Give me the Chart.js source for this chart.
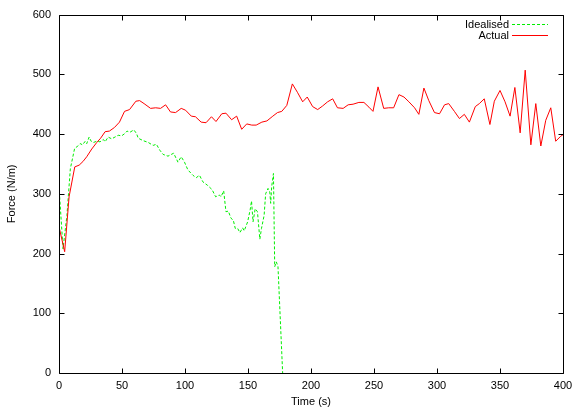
<!DOCTYPE html>
<html>
<head>
<meta charset="utf-8">
<script src="https://cdn.jsdelivr.net/npm/chart.js@4/dist/chart.umd.min.js"></script>
<style>
  html, body { margin: 0; padding: 0; background: #ffffff; }
  #wrap { width: 581px; height: 407px; }
</style>
</head>
<body>
<div id="wrap"><canvas id="c" width="581" height="407"></canvas></div>
<script>
// ---- data ----
const seriesNames = ["Idealised", "Actual"];

const idealTime = [0, 3.2, 6.3, 9, 12.4, 15, 16.8, 18.7, 20.8, 22, 23.9, 25.5, 27.4, 30, 32.6, 35.2, 36.6, 39, 41.8, 44.4,
  47, 49.7, 52.3, 54, 56.3, 59.4, 61.5, 62.9, 66.8, 70.8, 74.7, 77.3, 80, 82.6, 86.5, 91, 94.4, 97, 99.6, 102.3,
  106.3, 108.9, 111.5, 114.2, 118, 121.5, 124.3, 127.3, 128.6, 130.7, 132.5, 134.4, 136.5, 138.3, 139.9, 141.8, 143.6, 145.7, 147, 149.7,
  151.7, 152.8, 154, 155.7, 157.5, 159.4, 160.7, 162.8, 164, 165.9, 167.3, 168, 168.8, 170.2, 171.2, 172.5, 173.8, 177.5];
const idealForce = [312, 208, 264, 342, 376, 380, 384, 382, 388, 384, 395, 388, 386, 388, 387, 391, 387, 395, 392, 395,
  398, 397, 401, 405, 403, 407, 401, 393, 389, 386, 381, 383, 373, 366, 363, 368, 353, 362, 353, 340,
  331, 327, 331, 320, 314, 307, 295, 298, 295, 305, 270, 271, 259, 256, 242, 242, 235, 243, 238, 253,
  273, 288, 253, 275, 270, 224, 242, 264, 300, 309, 303, 284, 312, 334, 178, 186, 178, 0];

const actualTime = [0, 4.5, 8, 12.5, 16, 19, 22, 26, 30, 33, 36.6, 40, 44, 48, 52, 56, 61, 64, 67.5, 72.7,
  76.7, 80.6, 84.6, 88.5, 92.5, 97, 100.4, 105, 108.3, 112.8, 116.7, 121, 124.6, 129.2, 132.5, 137, 141, 145, 149, 153,
  156.5, 161, 165, 169.7, 173.4, 176.8, 180.8, 185.2, 189.2, 193.4, 197, 201.3, 205.3, 209.2, 213.2, 217.2, 221, 225.5, 229.5, 233.4,
  238, 242, 246, 249.2, 253.2, 257.7, 261.7, 265.6, 269.8, 273.8, 277.7, 282.2, 285.6, 289.6, 293.5, 298, 302, 306, 309.3, 313.8,
  317.8, 321.7, 325.7, 330.4, 333.6, 337.5, 342, 345.5, 350, 354, 358, 361.8, 366, 370, 374.5, 378.4, 382.4, 386.3, 390.3, 394.2, 398, 400];
const actualForce = [245, 203, 295, 345, 348, 354, 362, 375, 386, 393, 404, 405, 411, 420, 438, 441, 455, 456, 451, 443,
  444, 443, 449, 437, 436, 443, 440, 430, 429, 420, 419, 429, 421, 434, 435, 424, 430, 408, 417, 415,
  415, 420, 422, 430, 436, 438, 448, 484, 470, 454, 462, 446, 441, 447, 454, 459, 444, 443, 449, 450,
  453, 453, 445, 438, 479, 443, 444, 444, 466, 462, 454, 444, 433, 477, 456, 436, 434, 449, 451, 438,
  426, 433, 420, 446, 451, 459, 416, 455, 473, 454, 430, 478, 402, 507, 382, 451, 380, 423, 444, 388, 396, 399];

const xTicks = [0, 50, 100, 150, 200, 250, 300, 350, 400];
const yTicks = [0, 100, 200, 300, 400, 500, 600];
const xTitle = "Time (s)";
const yTitle = "Force (N/m)";

// ---- build ----
const FONT = '"Liberation Sans", Arial, Helvetica, sans-serif';
const toPts = (xs, ys) => xs.map((x, i) => ({ x: x, y: ys[i] }));
const idealColor = "#00ee00";
const actualColor = "#ff0000";

const framePlugin = {
  id: "frame",
  afterDatasetsDraw(chart) {
    const { ctx, chartArea: a, scales } = chart;
    const L = Math.round(a.left) + 0.5, R = Math.round(a.right) + 0.5;
    const T = Math.round(a.top) + 0.5, B = Math.round(a.bottom) + 0.5;
    const tl = 5;
    ctx.save();
    ctx.strokeStyle = "#000000";
    ctx.lineWidth = 1;
    ctx.setLineDash([]);
    ctx.beginPath();
    ctx.rect(L, T, R - L, B - T);
    xTicks.forEach(v => {
      const p = Math.round(scales.x.getPixelForValue(v)) + 0.5;
      ctx.moveTo(p, B); ctx.lineTo(p, B - tl);
      ctx.moveTo(p, T); ctx.lineTo(p, T + tl);
    });
    yTicks.forEach(v => {
      const p = Math.round(scales.y.getPixelForValue(v)) + 0.5;
      ctx.moveTo(L, p); ctx.lineTo(L + tl, p);
      ctx.moveTo(R, p); ctx.lineTo(R - tl, p);
    });
    ctx.stroke();

    // key (legend)
    const entries = [
      { name: seriesNames[0], color: idealColor, dash: [3, 2], y: 24.5 },
      { name: seriesNames[1], color: actualColor, dash: [], y: 35.5 }
    ];
    ctx.font = "11px " + FONT;
    ctx.textAlign = "right";
    ctx.textBaseline = "middle";
    entries.forEach(e => {
      ctx.fillStyle = "#000000";
      ctx.fillText(e.name, 509, e.y);
      ctx.strokeStyle = e.color;
      ctx.setLineDash(e.dash);
      ctx.beginPath();
      ctx.moveTo(512, e.y);
      ctx.lineTo(548, e.y);
      ctx.stroke();
    });
    ctx.restore();
  }
};

new Chart(document.getElementById("c"), {
  type: "line",
  data: {
    datasets: [
      {
        label: seriesNames[0],
        data: toPts(idealTime, idealForce),
        borderColor: idealColor,
        borderWidth: 1,
        borderDash: [3, 2],
        pointRadius: 0,
        tension: 0,
        fill: false,
        order: 1
      },
      {
        label: seriesNames[1],
        data: toPts(actualTime, actualForce),
        borderColor: actualColor,
        borderWidth: 1,
        pointRadius: 0,
        tension: 0,
        fill: false,
        order: 0
      }
    ]
  },
  options: {
    responsive: false,
    animation: false,
    devicePixelRatio: 1,
    layout: { padding: { top: 13, right: 18, left: 0, bottom: 0 } },
    plugins: { legend: { display: false }, tooltip: { enabled: false } },
    scales: {
      x: {
        type: "linear",
        min: 0, max: 400,
        afterBuildTicks: s => { s.ticks = xTicks.map(v => ({ value: v })); },
        afterFit: s => { s.height = 34; },
        grid: { display: false, drawTicks: false },
        border: { display: false },
        ticks: { color: "#000000", font: { family: FONT, size: 11 }, padding: 6, maxRotation: 0 },
        title: { display: true, text: xTitle, color: "#000000", font: { family: FONT, size: 11, lineHeight: 1 }, padding: { top: 0, bottom: 0 } }
      },
      y: {
        type: "linear",
        min: 0, max: 600,
        afterBuildTicks: s => { s.ticks = yTicks.map(v => ({ value: v })); },
        afterFit: s => { s.width = 59; },
        grid: { display: false, drawTicks: false },
        border: { display: false },
        ticks: { color: "#000000", font: { family: FONT, size: 11 }, padding: 8 },
        title: { display: true, text: yTitle, color: "#000000", font: { family: FONT, size: 11 }, padding: { top: 5, bottom: 0 } }
      }
    }
  },
  plugins: [framePlugin]
});
</script>
</body>
</html>
